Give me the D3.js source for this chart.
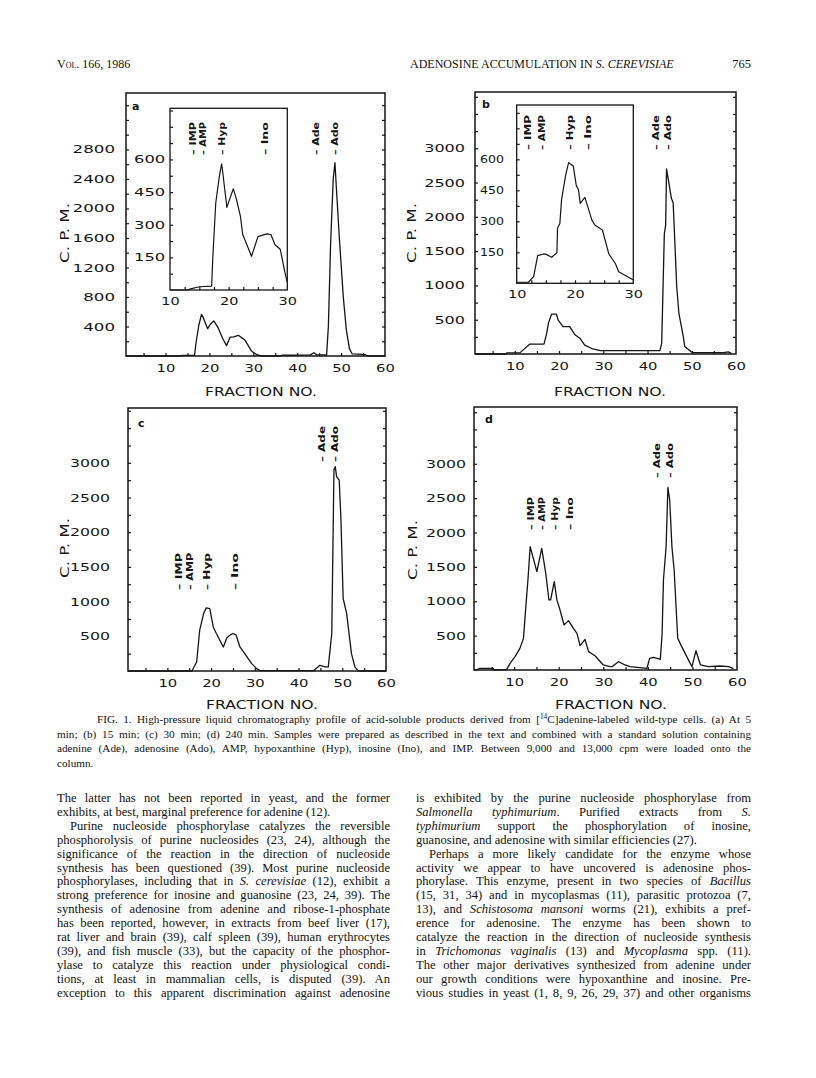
<!DOCTYPE html>
<html>
<head>
<meta charset="utf-8">
<script src="https://cdn.jsdelivr.net/npm/d3@7"></script>
<style>
  body { margin: 0; background: #fff; }
  svg { display: block; }
</style>
</head>
<body>
<svg id="page" width="816" height="1078"></svg>
<script>
// ---- data (fraction no. vs c.p.m.) ----
const fracA = [1, 13, 14, 16.6, 17, 17.6, 18.2, 18.6, 19.6, 20.2, 21, 22, 23, 23.9, 24.7, 25.5, 26.6, 28.1, 29.6, 30.8, 31.9, 36, 36.5, 43, 43.8, 44.5, 46.7, 47.1, 47.6, 48.2, 48.6, 48.9, 49.6, 50.5, 51.2, 51.9, 52.5, 54, 55.5, 56, 60];
const cpmA = [0, 0, 8, 10, 200, 420, 565, 520, 370, 430, 475, 380, 240, 140, 255, 260, 280, 215, 65, 18, 0, 0, 10, 15, 45, 15, 15, 400, 1500, 2400, 2620, 2300, 1600, 800, 350, 100, 30, 25, 20, 0, 0];

const insetFracA = [10, 13, 13.5, 15, 17.1, 17.3, 17.8, 18.4, 18.8, 19.0, 19.3, 19.7, 20.2, 20.8, 21.3, 22, 22.4, 23.9, 25, 26.5, 27.2, 27.9, 28.8, 29.6, 30];
const insetCpmA = [0, 0, 5, 15, 18, 150, 400, 520, 580, 540, 470, 380, 420, 465, 420, 340, 255, 155, 245, 258, 255, 208, 187, 80, 35];

const fracB = [1, 8, 8.2, 11.2, 13.4, 16.6, 17.2, 17.6, 18.3, 19.4, 19.8, 20.9, 22.4, 23.6, 24.7, 25.8, 27.4, 29.3, 42.8, 43.2, 43.8, 44.1, 44.3, 45.4, 45.8, 46.6, 47.1, 48.1, 48.4, 49.8, 50.4, 57.2, 58.3, 59];
const cpmB = [0, 0, 15, 20, 145, 145, 300, 450, 580, 580, 495, 400, 400, 280, 230, 130, 80, 48, 48, 155, 1750, 1880, 2700, 2270, 2200, 980, 590, 250, 110, 35, 20, 20, 30, 5];

const insetFracB = [10, 12, 12.9, 13.6, 14.6, 15.1, 16, 16.9, 17.0, 17.4, 17.7, 18.4, 18.9, 19.7, 20.2, 20.6, 20.9, 21.7, 22.9, 23.4, 24.7, 25.8, 26.9, 27.5, 30];
const insetCpmB = [5, 5, 32, 134, 142, 140, 126, 148, 266, 290, 406, 524, 584, 568, 476, 452, 387, 416, 306, 282, 258, 142, 97, 56, 16];

const fracC = [1, 15.6, 16.7, 17.4, 18.3, 18.9, 19.7, 20.5, 21.2, 22.8, 23.6, 24.3, 25, 25.7, 26.6, 29.3, 30.4, 31.2, 43.4, 44.9, 46.1, 46.8, 47.6, 48.1, 48.4, 48.7, 49.3, 49.7, 50.2, 51, 52.1, 52.9, 53.6, 60];
const cpmC = [0, 0, 130, 590, 830, 910, 900, 635, 540, 346, 480, 515, 540, 520, 346, 106, 34, 5, 5, 82, 58, 60, 540, 2900, 2945, 2800, 2750, 2175, 1045, 830, 250, 58, 0, 0];

const fracD = [1, 1.5, 2.3, 5.3, 5.5, 8.3, 9.1, 10.2, 11.3, 12.1, 12.6, 13.1, 13.6, 14.2, 15.1, 16.2, 17.1, 17.8, 18.2, 19, 19.6, 20.3, 21.2, 22.2, 23.3, 24.1, 24.8, 25.9, 26.7, 28.2, 30, 31.5, 32, 33.4, 34.9, 36, 39.8, 40.4, 41.3, 42.8, 43.2, 43.5, 44.1, 44.5, 44.9, 45.4, 45.9, 46.7, 47.6, 49.5, 49.9, 50.8, 51.8, 53.6, 56.2, 58.1, 59.2];
const cpmD = [0, 0, 24, 24, 0, 5, 97, 194, 315, 460, 897, 1310, 1795, 1650, 1430, 1770, 1407, 1020, 1020, 1285, 1020, 873, 655, 718, 606, 534, 354, 446, 267, 204, 73, 49, 49, 121, 73, 49, 24, 170, 184, 155, 534, 1310, 1795, 2658, 2473, 1795, 1455, 461, 340, 97, 49, 281, 73, 49, 58, 50, 20];

// standards (elution positions)
const earlyNames = ['IMP', 'AMP', 'Hyp', 'Ino'];
const lateNames = ['Ade', 'Ado'];
const earlyFracA = [14, 15.6, 18.9, 26.2];
const earlyFracB = [11.9, 14.3, 19.2, 22.3];
const earlyFracC = [12.7, 15.2, 19.0, 25.6];
const earlyFracD = [13.8, 16.3, 19.2, 22.5];
const lateFracA = [44.3, 48.6];
const lateFracB = [41.9, 44.7];
const lateFracC = [45.3, 48.4];
const lateFracD = [42, 45];

// tick labels
const xTickLabels = [10, 20, 30, 40, 50, 60];
const yTickLabelsA = [400, 800, 1200, 1600, 2000, 2400, 2800];
const yTickLabelsBCD = [500, 1000, 1500, 2000, 2500, 3000];
const insetXLabels = [10, 20, 30];
const insetYLabels = [150, 300, 450, 600];

// ---- text of the page ----
const headerLeft = 'Vol. 166, 1986';
const headerTitle = 'ADENOSINE ACCUMULATION IN *S. CEREVISIAE*';
const pageNo = '765';
const captionLines = [
  'FIG. 1. High-pressure liquid chromatography profile of acid-soluble products derived from [^14^C]adenine-labeled wild-type cells. (a) At 5',
  'min; (b) 15 min; (c) 30 min; (d) 240 min. Samples were prepared as described in the text and combined with a standard solution containing',
  'adenine (Ade), adenosine (Ado), AMP, hypoxanthine (Hyp), inosine (Ino), and IMP. Between 9,000 and 13,000 cpm were loaded onto the',
  'column.'
];
const leftColumn = [
  'The latter has not been reported in yeast, and the former',
  'exhibits, at best, marginal preference for adenine (12).',
  'Purine nucleoside phosphorylase catalyzes the reversible',
  'phosphorolysis of purine nucleosides (23, 24), although the',
  'significance of the reaction in the direction of nucleoside',
  'synthesis has been questioned (39). Most purine nucleoside',
  'phosphorylases, including that in *S. cerevisiae* (12), exhibit a',
  'strong preference for inosine and guanosine (23, 24, 39). The',
  'synthesis of adenosine from adenine and ribose-1-phosphate',
  'has been reported, however, in extracts from beef liver (17),',
  'rat liver and brain (39), calf spleen (39), human erythrocytes',
  '(39), and fish muscle (33), but the capacity of the phosphor-',
  'ylase to catalyze this reaction under physiological condi-',
  'tions, at least in mammalian cells, is disputed (39). An',
  'exception to this apparent discrimination against adenosine'
];
const rightColumn = [
  'is exhibited by the purine nucleoside phosphorylase from',
  '*Salmonella typhimurium*. Purified extracts from *S.*',
  '*typhimurium* support the phosphorylation of inosine,',
  'guanosine, and adenosine with similar efficiencies (27).',
  'Perhaps a more likely candidate for the enzyme whose',
  'activity we appear to have uncovered is adenosine phos-',
  'phorylase. This enzyme, present in two species of *Bacillus*',
  '(15, 31, 34) and in mycoplasmas (11), parasitic protozoa (7,',
  '13), and *Schistosoma mansoni* worms (21), exhibits a pref-',
  'erence for adenosine. The enzyme has been shown to',
  'catalyze the reaction in the direction of nucleoside synthesis',
  'in *Trichomonas vaginalis* (13) and *Mycoplasma* spp. (11).',
  'The other major derivatives synthesized from adenine under',
  'our growth conditions were hypoxanthine and inosine. Pre-',
  'vious studies in yeast (1, 8, 9, 26, 29, 37) and other organisms'
];
// line index: paragraph starts (indented) and ends (not justified)
const leftIndents = [2], leftEnds = [1];
const rightIndents = [4], rightEnds = [3];

// ---- layout ----
const ink = '#151515';
const sans = '"DejaVu Sans", "Liberation Sans", sans-serif';
const serif = '"Liberation Serif", "Times New Roman", serif';
const svg = d3.select('#page');

const panels = [
  { key: 'a', x0: 126, x1: 385, y0: 93, y1: 356, yMax: 3565, yLabels: yTickLabelsA, yStep: 200,
    labelGap: 11, perChar: 10.6, frac: fracA, cpm: cpmA, early: earlyFracA, late: lateFracA,
    earlyTop: 122, earlyBottom: 155, lateTop: 122, lateBottom: 155,
    cpmPos: [65, 233], fracPos: [261, 396], letterPos: [132, 110],
    inset: { x0: 170, x1: 287.3, y0: 108.3, y1: 290, yMax: 835, frac: insetFracA, cpm: insetCpmA, labelX: 134, perChar: 10.4 } },
  { key: 'b', x0: 475, x1: 736, y0: 92, y1: 354, yMax: 3820, yLabels: yTickLabelsBCD, yStep: 250,
    labelGap: 10, perChar: 10.2, frac: fracB, cpm: cpmB, early: earlyFracB, late: lateFracB,
    earlyTop: 115, earlyBottom: 150, lateTop: 115, lateBottom: 150,
    cpmPos: [412, 233], fracPos: [610, 396], letterPos: [482, 108],
    inset: { x0: 516.7, x1: 633.3, y0: 105, y1: 283.3, yMax: 863, frac: insetFracB, cpm: insetCpmB, labelX: 480, perChar: 8 } },
  { key: 'c', x0: 128, x1: 386, y0: 408, y1: 671, yMax: 3790, yLabels: yTickLabelsBCD, yStep: 250,
    labelGap: 18, perChar: 10, frac: fracC, cpm: cpmC, early: earlyFracC, late: lateFracC,
    earlyTop: 553, earlyBottom: 590, lateTop: 426, lateBottom: 462,
    cpmPos: [65, 548], fracPos: [262, 709], letterPos: [138, 427] },
  { key: 'd', x0: 474, x1: 737, y0: 407, y1: 670, yMax: 3826, yLabels: yTickLabelsBCD, yStep: 250,
    labelGap: 8, perChar: 10, frac: fracD, cpm: cpmD, early: earlyFracD, late: lateFracD,
    earlyTop: 497, earlyBottom: 530, lateTop: 443, lateBottom: 478,
    cpmPos: [413, 550], fracPos: [611, 709], letterPos: [485, 423] }
];

// wide lettering of the original, made by stretching glyphs
function wideText(sel, perChar) {
  sel.each(function () {
    const t = d3.select(this);
    t.attr('textLength', t.text().length * perChar).attr('lengthAdjust', 'spacingAndGlyphs');
  });
}

function styleAxis(g) {
  g.select('.domain').remove();
  g.selectAll('line').attr('stroke', ink).attr('stroke-width', 1.2);
  g.selectAll('text').attr('fill', ink).style('font-family', sans).style('font-size', '11px');
}

function drawMarkers(g, xs, names, fracs, top, bottom) {
  g.selectAll(null)
    .data(d3.zip(names, fracs))
    .join('text')
    .attr('transform', (d) => `translate(${xs(d[1])},${bottom}) rotate(-90)`)
    .attr('dy', '0.36em')
    .attr('textLength', bottom - top)
    .attr('lengthAdjust', 'spacingAndGlyphs')
    .attr('fill', ink)
    .style('font-family', sans)
    .style('font-size', '8px')
    .style('font-weight', 'bold')
    .text((d) => '\u2013 ' + d[0]);
}

function drawInset(g, p, ins) {
  const x = d3.scaleLinear().domain([10, 30]).range([ins.x0, ins.x1]);
  const y = d3.scaleLinear().domain([0, ins.yMax]).range([ins.y1, ins.y0]);

  g.append('rect')
    .attr('x', ins.x0).attr('y', ins.y0)
    .attr('width', ins.x1 - ins.x0).attr('height', ins.y1 - ins.y0)
    .attr('fill', '#fff').attr('stroke', ink).attr('stroke-width', 1.3);

  // inward ticks
  g.append('g').attr('transform', `translate(0,${ins.y1})`)
    .call(d3.axisBottom(x).tickValues(d3.range(12.5, 30, 2.5)).tickSize(-3).tickFormat(''))
    .call(styleAxis);
  g.append('g').attr('transform', `translate(${ins.x0},0)`)
    .call(d3.axisLeft(y).tickValues(d3.range(75, ins.yMax, 75)).tickSize(-3).tickFormat(''))
    .call(styleAxis);

  // labels
  const xl = g.append('g').attr('transform', `translate(0,${ins.y1})`)
    .call(d3.axisBottom(x).tickValues(insetXLabels).tickSize(0).tickPadding(7).tickFormat(d3.format('d')))
    .call(styleAxis);
  xl.selectAll('text').call(wideText, 9.2);

  g.append('g').selectAll(null)
    .data(insetYLabels)
    .join('text')
    .attr('x', ins.labelX)
    .attr('y', (d) => y(d))
    .attr('dy', '0.35em')
    .attr('fill', ink)
    .style('font-family', sans)
    .style('font-size', '11px')
    .text((d) => d)
    .call(wideText, ins.perChar);

  g.append('path')
    .datum(d3.zip(ins.frac, ins.cpm))
    .attr('fill', 'none').attr('stroke', ink).attr('stroke-width', 1.2)
    .attr('stroke-linejoin', 'round')
    .attr('d', d3.line().x((d) => x(d[0])).y((d) => y(d[1])));

  drawMarkers(g, x, earlyNames, p.early, p.earlyTop, p.earlyBottom);
}

function drawPanel(p) {
  const g = svg.append('g').attr('class', 'panel panel-' + p.key);
  const x = d3.scaleLinear().domain([1, 60]).range([p.x0, p.x1]);
  const y = d3.scaleLinear().domain([0, p.yMax]).range([p.y1, p.y0]);

  // frame
  g.append('rect')
    .attr('x', p.x0).attr('y', p.y0)
    .attr('width', p.x1 - p.x0).attr('height', p.y1 - p.y0)
    .attr('fill', 'none').attr('stroke', ink).attr('stroke-width', 1.5);

  // inward ticks: bottom, left, right
  g.append('g').attr('transform', `translate(0,${p.y1})`)
    .call(d3.axisBottom(x).tickValues(d3.range(5, 60, 5)).tickSize(-3).tickFormat(''))
    .call(styleAxis);
  const yTicks = d3.range(p.yStep, p.yMax, p.yStep);
  g.append('g').attr('transform', `translate(${p.x0},0)`)
    .call(d3.axisLeft(y).tickValues(yTicks).tickSize(-3).tickFormat(''))
    .call(styleAxis);
  g.append('g').attr('transform', `translate(${p.x1},0)`)
    .call(d3.axisRight(y).tickValues(yTicks).tickSize(-3).tickFormat(''))
    .call(styleAxis);

  // tick labels
  const xl = g.append('g').attr('transform', `translate(0,${p.y1})`)
    .call(d3.axisBottom(x).tickValues(xTickLabels).tickSize(0).tickPadding(8).tickFormat(d3.format('d')))
    .call(styleAxis);
  xl.selectAll('text').call(wideText, 9.4);
  const yl = g.append('g').attr('transform', `translate(${p.x0},0)`)
    .call(d3.axisLeft(y).tickValues(p.yLabels).tickSize(0).tickPadding(p.labelGap).tickFormat(d3.format('d')))
    .call(styleAxis);
  yl.selectAll('text').call(wideText, p.perChar);

  // axis titles and panel letter
  g.append('text')
    .attr('transform', `translate(${p.cpmPos[0]},${p.cpmPos[1]}) rotate(-90)`)
    .attr('text-anchor', 'middle').attr('dy', '0.36em')
    .attr('textLength', 60).attr('lengthAdjust', 'spacingAndGlyphs')
    .attr('fill', ink).style('font-family', sans).style('font-size', '12px')
    .text('C. P. M.');
  g.append('text')
    .attr('x', p.fracPos[0]).attr('y', p.fracPos[1])
    .attr('text-anchor', 'middle')
    .attr('textLength', 112).attr('lengthAdjust', 'spacingAndGlyphs')
    .attr('fill', ink).style('font-family', sans).style('font-size', '12.5px')
    .text('FRACTION  NO.');
  g.append('text')
    .attr('x', p.letterPos[0]).attr('y', p.letterPos[1])
    .attr('fill', ink).style('font-family', sans).style('font-size', '11px').style('font-weight', 'bold')
    .text(p.key);

  // chromatogram
  g.append('path')
    .datum(d3.zip(p.frac, p.cpm))
    .attr('fill', 'none').attr('stroke', ink).attr('stroke-width', 1.3)
    .attr('stroke-linejoin', 'round')
    .attr('d', d3.line().x((d) => x(d[0])).y((d) => y(d[1])));

  drawMarkers(g, x, lateNames, p.late, p.lateTop, p.lateBottom);
  if (p.inset) drawInset(g, p, p.inset);
  else drawMarkers(g, x, earlyNames, p.early, p.earlyTop, p.earlyBottom);
}

panels.forEach(drawPanel);

// ---- running text ----
// *...* marks italics, ^...^ superscript
function addRich(textSel, str, size) {
  let back = 0;
  str.split(/(\*[^*]*\*|\^[^^]*\^)/).filter((s) => s.length).forEach((s) => {
    let ts;
    if (s[0] === '*') ts = textSel.append('tspan').style('font-style', 'italic').text(s.slice(1, -1));
    else if (s[0] === '^') ts = textSel.append('tspan').attr('dy', -4).style('font-size', size * 0.65 + 'px').text(s.slice(1, -1));
    else ts = textSel.append('tspan').text(s);
    if (back) { ts.attr('dy', back); back = 0; }
    if (s[0] === '^') back = 4;
  });
}

function textLine(x, yBase, width, str, size, justify) {
  const t = svg.append('text')
    .attr('x', x).attr('y', yBase)
    .attr('fill', '#111')
    .style('font-family', serif).style('font-size', size + 'px');
  addRich(t, str, size);
  if (justify) {
    const len = t.node().getComputedTextLength();
    const spaces = str.split(' ').length - 1;
    if (spaces > 0) t.style('word-spacing', (width - len) / spaces + 'px');
  }
  return t;
}

function column(lines, x, width, yFirst, step, indents, ends, size) {
  lines.forEach((ln, i) => {
    const ind = indents.includes(i) ? 13 : 0;
    textLine(x + ind, yFirst + i * step, width - ind, ln, size, !ends.includes(i));
  });
}

// header
svg.append('text').attr('x', 57).attr('y', 68).attr('fill', '#111')
  .style('font-family', serif).style('font-size', '12px').style('font-variant', 'small-caps')
  .text(headerLeft);
const ht = svg.append('text').attr('x', 410).attr('y', 68).attr('fill', '#111')
  .style('font-family', serif).style('font-size', '12px');
addRich(ht, headerTitle, 12);
svg.append('text').attr('x', 751).attr('y', 68).attr('text-anchor', 'end').attr('fill', '#111')
  .style('font-family', serif).style('font-size', '12.5px').text(pageNo);

// caption
captionLines.forEach((ln, i) => {
  const ind = i === 0 ? 40 : 0;
  textLine(57 + ind, 723 + i * 14.6, 694 - ind, ln, 11.2, i < captionLines.length - 1);
});

// two text columns
column(leftColumn, 57, 333, 802, 13.9, leftIndents, leftEnds, 12.6);
column(rightColumn, 416, 335, 802, 13.9, rightIndents, rightEnds, 12.6);
</script>
</body>
</html>
